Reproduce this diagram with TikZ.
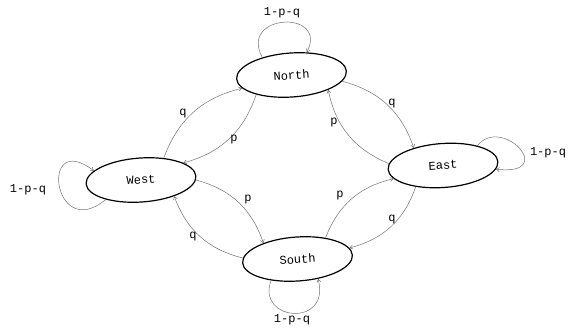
\documentclass[tikz,border=0pt]{standalone}
\usepackage{fontspec}
\setmonofont{Liberation Mono}
\usetikzlibrary{shapes.geometric,arrows.meta}
\begin{document}
\begin{tikzpicture}[x=1pt,y=-1pt,
  state/.style={ellipse,draw,line width=1.2pt,minimum width=110pt,minimum height=44pt,
                inner sep=0pt,font=\ttfamily\fontsize{12}{12}\selectfont,rotate=4},
  trans/.style={draw=black!55,line width=0.5pt,-{Straight Barb[length=3pt,width=4pt]}},
  lbl/.style={font=\ttfamily\fontsize{12}{12}\selectfont,inner sep=1pt}]
\useasboundingbox (0,0) rectangle (576,331);

% the four states
\node[state] (N) at (291.5,75)  {North};
\node[state] (W) at (141,180)   {West};
\node[state] (E) at (443,165.5) {East};
\node[state] (S) at (297.5,259) {South};

% transitions between neighbouring states
\draw[trans] (W.40)  to[bend left=28] (N.191);
\draw[trans] (N.205) to[bend left=28] (W.18);
\draw[trans] (N.349) to[bend left=28] (E.145);
\draw[trans] (E.174) to[bend left=28] (N.334);
\draw[trans] (S.33)  to[bend left=28] (E.191);
\draw[trans] (E.214) to[bend left=28] (S.8);
\draw[trans] (W.356) to[bend left=28] (S.151);
\draw[trans] (S.175) to[bend left=28] (W.330);

% transition probabilities
\node[lbl] (lwn) at (183,114) {q};
\node[lbl] (lnw) at (234,140) {p};
\node[lbl] (lne) at (392,104) {q};
\node[lbl] (len) at (334,123) {p};
\node[lbl] (lse) at (340,196) {p};
\node[lbl] (les) at (392,220) {q};
\node[lbl] (lws) at (248,200) {p};
\node[lbl] (lsw) at (193,237) {q};

% self loops
\draw[trans] (N.145) .. controls +(-24,-44) and +(22,-43) .. (N.52);
\draw[trans] (W.205) .. controls +(-53,44) and +(-55,-42) .. (W.165);
\draw[trans] (E.26)  .. controls +(25,-31) and +(63,7) .. (E.352);
\draw[trans] (S.215) .. controls +(-15,41) and +(13,49) .. (S.312);

\node[lbl] (lnn) at (282,13)  {1-p-q};
\node[lbl] (lww) at (28,190)  {1-p-q};
\node[lbl] (lee) at (548,153) {1-p-q};
\node[lbl] (lss) at (292,320) {1-p-q};
\end{tikzpicture}
\end{document}
